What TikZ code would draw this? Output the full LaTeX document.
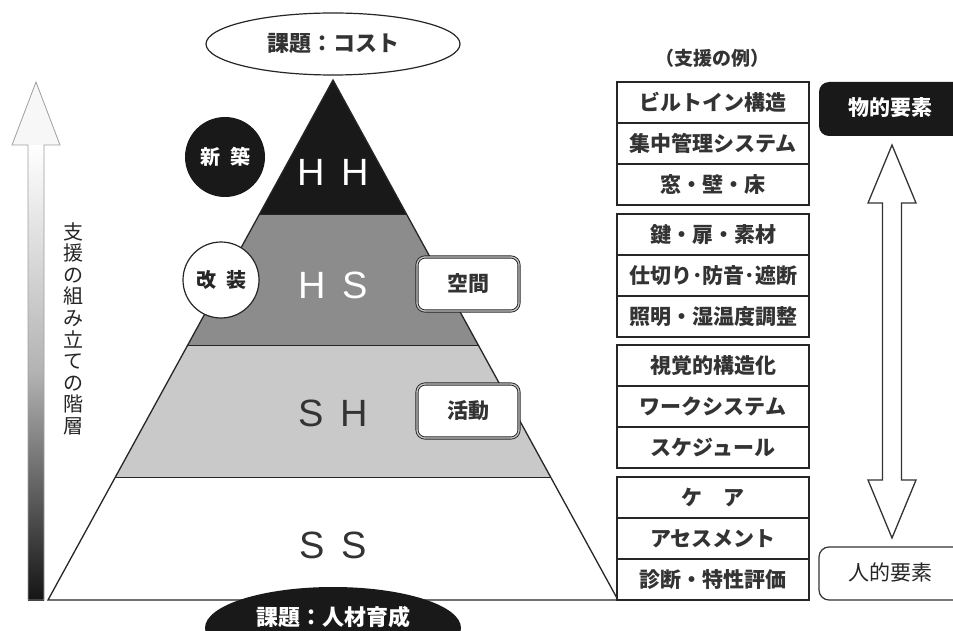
\documentclass[tikz,border=0pt]{standalone}
\usepackage{fontspec}
\setmainfont{Noto Sans CJK JP}
\newfontfamily\latinsans{Liberation Sans}
\usetikzlibrary{calc,shapes.geometric}
\definecolor{hsgray}{gray}{0.55}
\definecolor{shgray}{gray}{0.79}
\definecolor{txtdark}{gray}{0.2}
\tikzset{
  exbox/.style={draw=black!85, line width=1.3pt, fill=white, minimum width=192pt, minimum height=41pt, inner sep=0pt, font=\fontsize{21}{21}\selectfont\bfseries, text=black!80},
  dblbox/.style={draw=black!85, double=gray!45, double distance=1.3pt, line width=0.9pt, rounded corners=8pt, fill=white, minimum width=102pt, minimum height=54pt, font=\fontsize{21}{21}\selectfont\bfseries, text=black!80},
  layerlbl/.style={font=\latinsans\fontsize{38}{38}\selectfont},
  hollowarrow/.style={draw=black!80, line width=1.3pt, fill=white, line join=miter}
}
\begin{document}
\begin{tikzpicture}[x=1pt,y=-1pt]
\path[use as bounding box] (0,0) rectangle (953,631);
\clip (0,0) rectangle (953,631);
\fill[white] (0,0) rectangle (953,631);

% pyramid coordinates
\coordinate (apex) at (333,80);
\coordinate (bl) at (48,600);
\coordinate (br) at (618,600);
\coordinate (l1) at ($(apex)!{135/520}!(bl)$);
\coordinate (r1) at ($(apex)!{135/520}!(br)$);
\coordinate (l2) at ($(apex)!{265/520}!(bl)$);
\coordinate (r2) at ($(apex)!{265/520}!(br)$);
\coordinate (l3) at ($(apex)!{397/520}!(bl)$);
\coordinate (r3) at ($(apex)!{397/520}!(br)$);

\fill[black!90] (apex) -- (l1) -- (r1) -- cycle;
\fill[hsgray] (l1) -- (l2) -- (r2) -- (r1) -- cycle;
\fill[shgray] (l2) -- (l3) -- (r3) -- (r2) -- cycle;
\fill[white] (l3) -- (bl) -- (br) -- (r3) -- cycle;
\draw[black!85, line width=1.3pt, line join=miter] (apex) -- (bl) -- (br) -- cycle;
\draw[black!85, line width=1pt] (l1) -- (r1) (l2) -- (r2) (l3) -- (r3);

\node[layerlbl, text=white] (hh) at (333,172) {H\hspace{17pt}H};
\node[layerlbl, text=white] (hs) at (333,285) {H\hspace{17pt}S};
\node[layerlbl, text=txtdark] (sh) at (333,413) {S\hspace{17pt}H};
\node[layerlbl, text=txtdark] (ss) at (333,545) {S\hspace{17pt}S};

% top & bottom ellipses
\node[ellipse, draw=black!85, line width=1.2pt, fill=white, minimum width=254pt, minimum height=62pt, font=\fontsize{22}{22}\selectfont\bfseries, text=black!80] (cost) at (333,44) {課題：コスト};
\node[ellipse, fill=black!90, minimum width=256pt, minimum height=82pt] (jinzai) at (333,628) {};
\node[font=\fontsize{22}{22}\selectfont\bfseries, text=white] (jinzaitxt) at (333,617) {課題：人材育成};

% circles
\node[circle, fill=black!90, minimum size=80pt, font=\fontsize{20}{20}\selectfont\bfseries, text=white] (shinchiku) at (225,157) {新\hspace{10pt}築};
\node[circle, draw=black!85, line width=1.2pt, fill=white, minimum size=76pt, font=\fontsize{20}{20}\selectfont\bfseries, text=black!85] (kaisou) at (221,280) {改\hspace{10pt}装};

% double boxes
\node[dblbox] (kukan) at (468,284) {空間};
\node[dblbox] (katsudo) at (468,411) {活動};

% left gradient arrow: white head, shaded shaft
\shade[top color=white, bottom color=black!92, middle color=gray!60]
  (28,145) rectangle (44,600);
\fill[white!97!black] (12,145) -- (36,82) -- (60,145) -- cycle;
\draw[gray!75, line width=0.8pt, line join=miter]
  (28,600) -- (28,145) -- (12,145) -- (36,82) -- (60,145) -- (44,145) -- (44,600) -- cycle;
\node[font=\fontsize{20}{21.6}\selectfont, text=black!85, align=center, inner sep=0pt, anchor=north] (kaiso) at (73,222)
  {支\\援\\の\\組\\み\\立\\て\\の\\階\\層};

% examples column
\node[font=\fontsize{19}{19}\selectfont\bfseries, text=black!80] (rei) at (712,58) {（支援の例）};
\node[exbox] (e1) at (713,102.5) {ビルトイン構造};
\node[exbox] (e2) at (713,143.5) {集中管理システム};
\node[exbox] (e3) at (713,184.5) {窓・壁・床};
\node[exbox] (e4) at (713,234.5) {鍵・扉・素材};
\node[exbox] (e5) at (713,275.5) {仕切り･防音･遮断};
\node[exbox] (e6) at (713,316.5) {照明・湿温度調整};
\node[exbox] (e7) at (713,365.5) {視覚的構造化};
\node[exbox] (e8) at (713,406.5) {ワークシステム};
\node[exbox] (e9) at (713,447.5) {スケジュール};
\node[exbox] (e10) at (713,497.5) {ケ　ア};
\node[exbox] (e11) at (713,538.5) {アセスメント};
\node[exbox] (e12) at (713,579.5) {診断・特性評価};

% right elements
\fill[black!90, rounded corners=10pt] (819,82) rectangle (975,136);
\node[font=\fontsize{21}{21}\selectfont\bfseries, text=white] (butsu) at (890,108) {物的要素};
\draw[black!80, line width=1.2pt, rounded corners=10pt, fill=white] (819,547) rectangle (975,600);
\node[font=\fontsize{21}{21}\selectfont, text=black!85] (jin) at (890,572) {人的要素};

% double-headed hollow arrow
\coordinate (datop) at (892,145);
\coordinate (dabot) at (892,538);
\draw[hollowarrow] (datop) -- (916,203) -- (901.5,203) -- (901.5,480) -- (916,480) -- (dabot)
  -- (868,480) -- (882.5,480) -- (882.5,203) -- (868,203) -- cycle;
\end{tikzpicture}
\end{document}
